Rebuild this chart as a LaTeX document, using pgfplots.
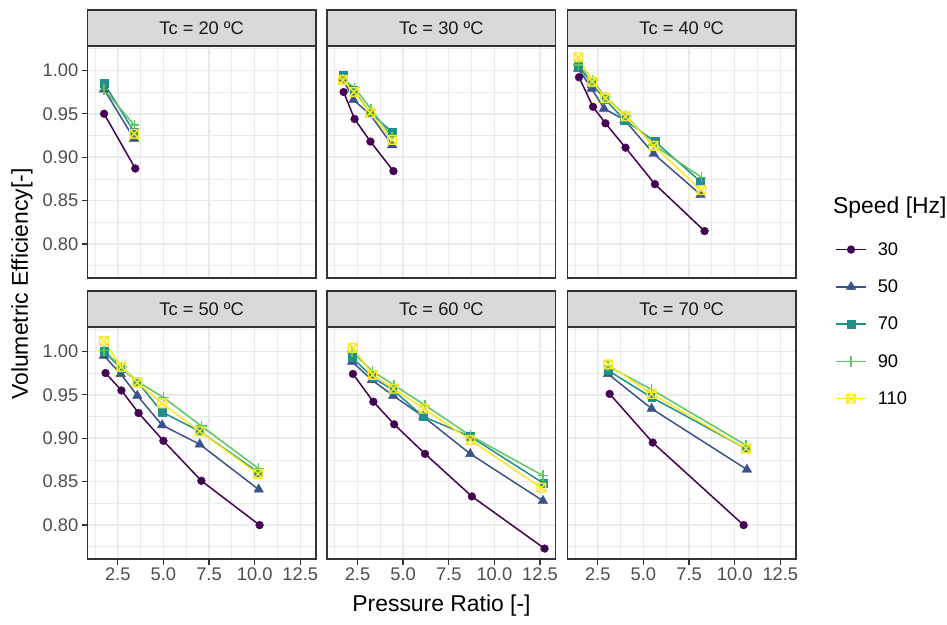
\documentclass[border=0pt]{standalone}
\usepackage{pgfplots}
\pgfplotsset{compat=1.18}
\usepackage{fontspec}
\setmainfont{Liberation Sans}

\definecolor{c30}{HTML}{440154}
\definecolor{c50}{HTML}{3B528B}
\definecolor{c70}{HTML}{21908C}
\definecolor{c90}{HTML}{5DC863}
\definecolor{c110}{HTML}{FDE725}
\definecolor{gridc}{HTML}{EBEBEB}
\definecolor{stripc}{HTML}{D9D9D9}
\definecolor{framec}{HTML}{333333}
\definecolor{ticklab}{HTML}{4D4D4D}
\definecolor{striptext}{HTML}{1A1A1A}

% square with a cross inside
\pgfdeclareplotmark{boxx}{%
  \pgfpathrectangle{\pgfpoint{-\pgfplotmarksize}{-\pgfplotmarksize}}{\pgfpoint{2\pgfplotmarksize}{2\pgfplotmarksize}}%
  \pgfpathmoveto{\pgfpoint{-\pgfplotmarksize}{-\pgfplotmarksize}}%
  \pgfpathlineto{\pgfpoint{\pgfplotmarksize}{\pgfplotmarksize}}%
  \pgfpathmoveto{\pgfpoint{-\pgfplotmarksize}{\pgfplotmarksize}}%
  \pgfpathlineto{\pgfpoint{\pgfplotmarksize}{-\pgfplotmarksize}}%
  \pgfusepathqstroke}

\newcommand{\ticksize}{\fontsize{18.3}{21}\selectfont}
\newcommand{\titlesize}{\fontsize{22.9}{26}\selectfont}

\pgfplotsset{
  facet/.style={
    scale only axis, width=228.7pt, height=232pt, anchor=south west,
    xmin=0.83, xmax=13.36, ymin=0.761, ymax=1.028,
    xtick={2.5,5,7.5,10,12.5}, minor xtick={1.25,3.75,6.25,8.75,11.25},
    ytick={0.80,0.85,0.90,0.95,1.00},
    minor ytick={0.775,0.825,0.875,0.925,0.975,1.025},
    grid=both,
    major grid style={color=gridc, line width=1.5pt},
    minor grid style={color=gridc, line width=0.75pt},
    axis line style={color=framec, line width=1.4pt},
    tick align=outside, major tick length=5.5pt, minor tick length=0pt,
    tick style={color=framec, line width=1.4pt},
    xtick pos=bottom, ytick pos=left,
    tick label style={font=\ticksize, color=ticklab},
    /pgf/number format/assume math mode=true,
    xticklabel style={/pgf/number format/fixed, /pgf/number format/fixed zerofill, /pgf/number format/precision=1},
    yticklabel style={/pgf/number format/fixed, /pgf/number format/fixed zerofill, /pgf/number format/precision=2},
    legend image code/.code={\draw[mark repeat=2,mark phase=2,##1] plot coordinates {(0pt,0pt) (15pt,0pt) (30pt,0pt)};},
  },
  noxlab/.style={xmajorticks=false},
  noylab/.style={ymajorticks=false},
  s30/.style={color=c30, line width=1.5pt, mark=*, mark size=3.9pt, mark options={solid, line width=0.4pt}},
  s50/.style={color=c50, line width=1.5pt, mark=triangle*, mark size=5.5pt, mark options={solid, line width=0.4pt}},
  s70/.style={color=c70, line width=1.5pt, mark=square*, mark size=3.9pt, mark options={solid, line width=0.4pt}},
  s90/.style={color=c90, line width=1.5pt, mark=+, mark size=5.2pt, mark options={solid, line width=1.4pt}},
  s110/.style={color=c110, line width=1.5pt, mark=boxx, mark size=4.3pt, mark options={solid, line width=1.4pt}},
}

\begin{document}
\begin{tikzpicture}
\useasboundingbox (0pt,0pt) rectangle (947pt,624pt);

% ---- Tc = 20
\begin{axis}[facet, noxlab, name=p1, at={(87.3pt,346pt)}]
\addplot[s30] coordinates {(1.75,0.950) (3.46,0.887)};
\addplot[s50] coordinates {(1.75,0.978) (3.40,0.921)};
\addplot[s70] coordinates {(1.75,0.985) (3.40,0.929)};
\addplot[s90] coordinates {(1.75,0.978) (3.40,0.937)};
\addplot[s110] coordinates {(3.40,0.927)};
\end{axis}

% ---- Tc = 30
\begin{axis}[facet, noxlab, noylab, name=p2, at={(327pt,346pt)}]
\addplot[s30] coordinates {(1.74,0.975) (2.34,0.944) (3.21,0.918) (4.47,0.884)};
\addplot[s50] coordinates {(1.70,0.990) (2.28,0.966) (3.20,0.949) (4.40,0.914)};
\addplot[s70] coordinates {(1.70,0.994) (2.28,0.977) (3.20,0.951) (4.40,0.929)};
\addplot[s90] coordinates {(1.70,0.990) (2.34,0.980) (3.25,0.955) (4.40,0.923)};
\addplot[s110] coordinates {(1.70,0.989) (2.30,0.975) (3.20,0.951) (4.40,0.920)};
\end{axis}

% ---- Tc = 40
\begin{axis}[facet, noxlab, noylab, name=p3, at={(567.3pt,346pt)}]
\addplot[s30] coordinates {(1.47,0.992) (2.24,0.958) (2.92,0.939) (4.02,0.911) (5.63,0.869) (8.35,0.815)};
\addplot[s50] coordinates {(1.43,1.002) (2.16,0.979) (2.84,0.956) (3.96,0.943) (5.56,0.904) (8.13,0.857)};
\addplot[s70] coordinates {(1.43,1.005) (2.16,0.985) (2.88,0.967) (3.96,0.943) (5.63,0.918) (8.13,0.872)};
\addplot[s90] coordinates {(1.43,1.006) (2.20,0.989) (2.92,0.969) (4.02,0.948) (5.56,0.914) (8.17,0.877)};
\addplot[s110] coordinates {(1.43,1.015) (2.20,0.987) (2.92,0.968) (4.02,0.947) (5.56,0.913) (8.17,0.862)};
\end{axis}

% ---- Tc = 50
\begin{axis}[facet, name=p4, at={(87.3pt,65pt)}]
\addplot[s30] coordinates {(1.83,0.975) (2.70,0.955) (3.64,0.929) (5.00,0.897) (7.08,0.851) (10.27,0.800)};
\addplot[s50] coordinates {(1.74,0.995) (2.66,0.974) (3.57,0.949) (4.93,0.915) (6.99,0.893) (10.22,0.841)};
\addplot[s70] coordinates {(1.74,1.000) (2.70,0.980) (3.57,0.965) (4.93,0.930) (6.99,0.908) (10.18,0.861)};
\addplot[s90] coordinates {(1.74,1.001) (2.70,0.982) (3.60,0.965) (5.00,0.947) (7.08,0.914) (10.22,0.865)};
\addplot[s110] coordinates {(1.74,1.012) (2.70,0.982) (3.57,0.964) (4.93,0.940) (6.99,0.908) (10.18,0.859)};
\end{axis}

% ---- Tc = 60
\begin{axis}[facet, noylab, name=p5, at={(327pt,65pt)}]
\addplot[s30] coordinates {(2.25,0.974) (3.37,0.942) (4.51,0.916) (6.20,0.882) (8.77,0.833) (12.75,0.773)};
\addplot[s50] coordinates {(2.21,0.988) (3.29,0.967) (4.46,0.949) (6.10,0.925) (8.68,0.882) (12.66,0.828)};
\addplot[s70] coordinates {(2.21,0.993) (3.33,0.970) (4.48,0.955) (6.10,0.925) (8.68,0.902) (12.70,0.848)};
\addplot[s90] coordinates {(2.21,0.999) (3.33,0.977) (4.51,0.961) (6.20,0.938) (8.68,0.903) (12.66,0.857)};
\addplot[s110] coordinates {(2.25,1.004) (3.33,0.973) (4.48,0.957) (6.13,0.934) (8.68,0.898) (12.57,0.843)};
\end{axis}

% ---- Tc = 70 (carries the legend)
\begin{axis}[facet, noylab, name=p6, at={(567.3pt,65pt)},
  legend style={at={(axis description cs:1.171,1.374)}, anchor=north west,
    draw=none, fill=none, font=\ticksize, row sep=19pt, column sep=9pt, inner sep=0pt},
  legend cell align=left]
\addplot[s30] coordinates {(3.15,0.951) (5.51,0.895) (10.49,0.800)};
\addplot[s50] coordinates {(3.06,0.974) (5.45,0.934) (10.67,0.864)};
\addplot[s70] coordinates {(3.06,0.978) (5.45,0.947) (10.62,0.888)};
\addplot[s90] coordinates {(3.06,0.983) (5.45,0.956) (10.62,0.892)};
\addplot[s110] coordinates {(3.06,0.985) (5.45,0.951) (10.62,0.888)};
\legend{30,50,70,90,110}
\end{axis}

% facet strips
\foreach \p/\t in {p1/20,p2/30,p3/40,p4/50,p5/60,p6/70}{
  \draw[framec, line width=1.4pt, fill=stripc] (\p.north west) rectangle ([yshift=36pt]\p.north east);
  \node[font=\ticksize, text=striptext] at ([yshift=18pt]\p.north) {Tc = \t\ ºC};
}

% axis titles
\node[rotate=90, font=\titlesize] at (22pt,340pt) {Volumetric Efficiency[-]};
\node[font=\titlesize] at (441.5pt,18pt) {Pressure Ratio [-]};
\node[anchor=west, font=\titlesize, inner sep=0pt] at (833pt,416pt) {Speed [Hz]};
\end{tikzpicture}
\end{document}
